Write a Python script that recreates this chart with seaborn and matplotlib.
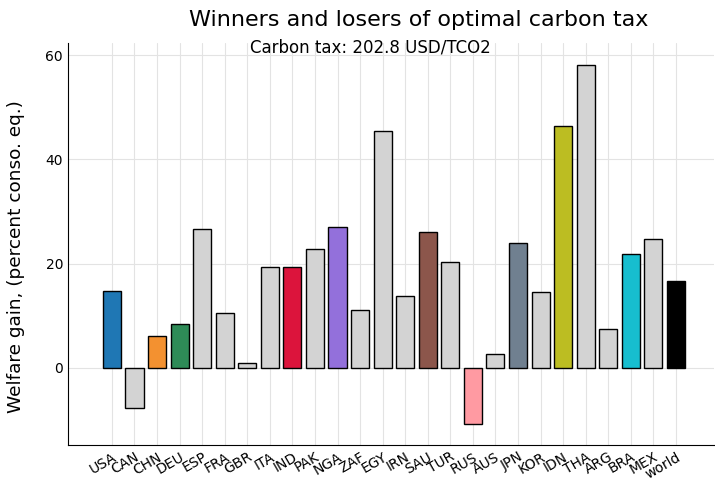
import pandas as pd
import matplotlib
matplotlib.use('Agg')
import matplotlib.pyplot as plt
import seaborn as sns

countries = ['USA', 'CAN', 'CHN', 'DEU', 'ESP', 'FRA', 'GBR', 'ITA', 'IND', 'PAK',
             'NGA', 'ZAF', 'EGY', 'IRN', 'SAU', 'TUR', 'RUS', 'AUS', 'JPN', 'KOR',
             'IDN', 'THA', 'ARG', 'BRA', 'MEX', 'world']
welfare_gain = [14.8, -7.7, 6.1, 8.4, 26.6, 10.5, 0.9, 19.4, 19.4, 22.8,
                27.0, 11.1, 45.4, 13.8, 26.1, 20.3, -10.7, 2.7, 24.0, 14.6,
                46.4, 58.1, 7.5, 21.9, 24.7, 16.7]
highlight = {'USA': '#1f77b4', 'CHN': '#f39130', 'DEU': '#2e8b57', 'IND': '#dc143c',
             'NGA': '#9370db', 'SAU': '#8c564b', 'RUS': '#ff9aa2', 'JPN': '#708090',
             'IDN': '#bcbd22', 'BRA': '#17becf', 'world': '#000000'}
palette = {c: highlight.get(c, '#d3d3d3') for c in countries}

df = pd.DataFrame({'country': countries, 'gain': welfare_gain})

sns.set_style('white')
plt.rcParams.update({'text.color': 'black', 'axes.labelcolor': 'black',
                     'xtick.color': 'black', 'ytick.color': 'black'})
fig = plt.figure(figsize=(7.15, 4.8), dpi=100)
ax = fig.add_axes([0.095, 0.073, 0.904, 0.837])

sns.barplot(data=df, x='country', y='gain', hue='country', palette=palette,
            order=countries, hue_order=countries, legend=False, width=0.8,
            edgecolor='black', linewidth=1, saturation=1, ax=ax, zorder=3)

ax.set_xlim(-1.95, 26.7)
ax.set_ylim(-14.8, 62.3)
ax.set_yticks([0, 20, 40, 60])
ax.grid(True, color='#e3e3e3', linewidth=0.8, zorder=0)
ax.set_axisbelow(True)
ax.tick_params(direction='in', length=4, labelsize=10, color='black')
plt.setp(ax.get_xticklabels(), rotation=30, ha='right', rotation_mode='anchor')
for s in ['top', 'right']:
    ax.spines[s].set_visible(False)
for s in ['left', 'bottom']:
    ax.spines[s].set_color('black')
ax.set_xlabel('')
ax.set_ylabel('Welfare gain, (percent conso. eq.)', fontsize=13.3)
ax.yaxis.set_label_coords(-0.066, 0.47)

fig.text(0.585, 0.958, 'Winners and losers of optimal carbon tax', ha='center',
         va='center', fontsize=16)
fig.text(0.518, 0.901, 'Carbon tax: 202.8 USD/TCO2', ha='center', va='center',
         fontsize=12)

fig.savefig('out.png', dpi=100)
